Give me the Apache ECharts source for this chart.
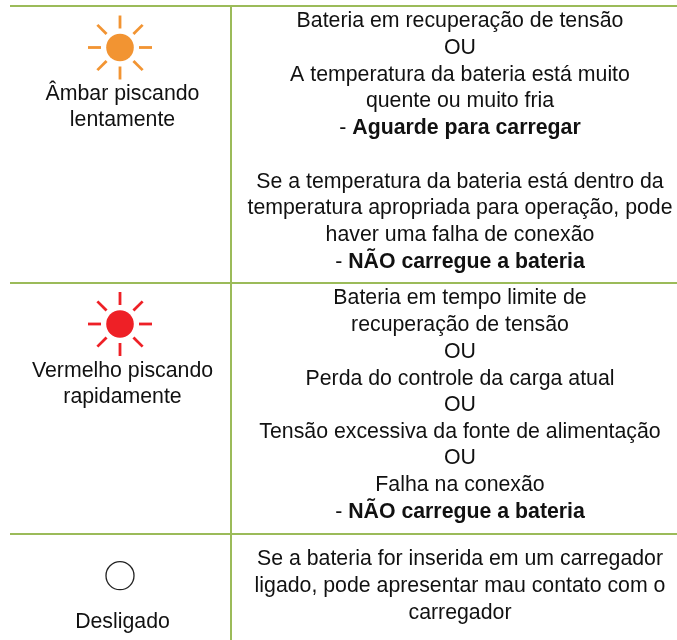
<!DOCTYPE html>
<html><head><meta charset="utf-8">
<style>html,body{margin:0;padding:0;background:#fff}#c{width:677px;height:640px}</style>
<script src="https://cdn.jsdelivr.net/npm/echarts@6/dist/echarts.min.js"></script></head>
<body><div id="c"></div>
<script>
const statusLines = [
  ['Âmbar piscando',94], ['lentamente',120],
  ['Vermelho piscando',371], ['rapidamente',397],
  ['Desligado',622]
];
const detailLines = [
  ['Bateria em recuperação de tensão',21],['OU',48],['A temperatura da bateria está muito',75],
  ['quente ou muito fria',101],['- |Aguarde para carregar',128],
  ['Se a temperatura da bateria está dentro da',182],['temperatura apropriada para operação, pode',208],
  ['haver uma falha de conexão',235],['- |NÃO carregue a bateria',262],
  ['Bateria em tempo limite de',298],['recuperação de tensão',325],['OU',352],
  ['Perda do controle da carga atual',379],['OU',405],['Tensão excessiva da fonte de alimentação',432],
  ['OU',458],['Falha na conexão',485],['- |NÃO carregue a bateria',512],
  ['Se a bateria for inserida em um carregador',559],['ligado, pode apresentar mau contato com o',586],['carregador',613]
];
const hLines = [[10,677,6],[10,677,283],[10,677,534]];
const vLines = [[231,5,640]];
const icons = [
  {x:120,y:47.5,color:'#F29432',rays:true},
  {x:120,y:324,color:'#EE2026',rays:true},
  {x:120,y:575.7,color:'#222222',rays:false}
];
const lineColor = '#9BBB59';
const font = '"Liberation Sans", Arial, sans-serif';
const fs = 21.3;
const textColor = '#111111';

function richText(s){
  const p = s.split('|');
  return p.length>1 ? '{n|'+p[0]+'}{b|'+p[1]+'}' : '{n|'+s+'}';
}
const labelSeries = (cx,data)=>({
  type:'scatter', symbolSize:1, itemStyle:{opacity:0}, silent:true,
  data:data.map(d=>({value:[cx,d[1]],
    label:{show:true,position:'inside',color:textColor,fontFamily:font,fontSize:fs,opacity:1,formatter:richText(d[0]),
      rich:{n:{fontSize:fs,fontFamily:font,color:textColor},b:{fontSize:fs,fontFamily:font,color:textColor,fontWeight:'bold'}}}}))
});
const option = {
  animation:false,
  backgroundColor:'#fff',
  grid:{left:0,right:0,top:0,bottom:0},
  xAxis:{type:'value',min:0,max:677,show:false},
  yAxis:{type:'value',min:0,max:640,inverse:true,show:false},
  series:[
    {type:'custom',silent:true,data:hLines,
     renderItem(p,api){const a=api.coord([api.value(0),api.value(2)]),b=api.coord([api.value(1),api.value(2)]);
       return {type:'line',shape:{x1:a[0],y1:a[1],x2:b[0],y2:b[1]},style:{stroke:lineColor,lineWidth:2}};}},
    {type:'custom',silent:true,data:vLines,
     renderItem(p,api){const a=api.coord([api.value(0),api.value(1)]),b=api.coord([api.value(0),api.value(2)]);
       return {type:'line',shape:{x1:a[0],y1:a[1],x2:b[0],y2:b[1]},style:{stroke:lineColor,lineWidth:2}};}},
    {type:'custom',silent:true,data:icons.map(i=>[i.x,i.y]),
     renderItem(p,api){
       const ic=icons[p.dataIndex], c=api.coord([api.value(0),api.value(1)]), kids=[];
       if(ic.rays){
         kids.push({type:'circle',shape:{cx:c[0],cy:c[1],r:13.8},style:{fill:ic.color}});
         for(let k=0;k<8;k++){
           const a=k*Math.PI/4, r0=19, r1=32;
           kids.push({type:'line',shape:{x1:c[0]+Math.cos(a)*r0,y1:c[1]+Math.sin(a)*r0,x2:c[0]+Math.cos(a)*r1,y2:c[1]+Math.sin(a)*r1},
             style:{stroke:ic.color,lineWidth:2.8}});
         }
       } else {
         kids.push({type:'circle',shape:{cx:c[0],cy:c[1],r:14},style:{fill:'#fff',stroke:ic.color,lineWidth:1.3}});
       }
       return {type:'group',children:kids};
     }},
    labelSeries(122.5,statusLines),
    labelSeries(460,detailLines)
  ]
};
echarts.init(document.getElementById('c'),null,{renderer:'canvas'}).setOption(option);
</script></body></html>
